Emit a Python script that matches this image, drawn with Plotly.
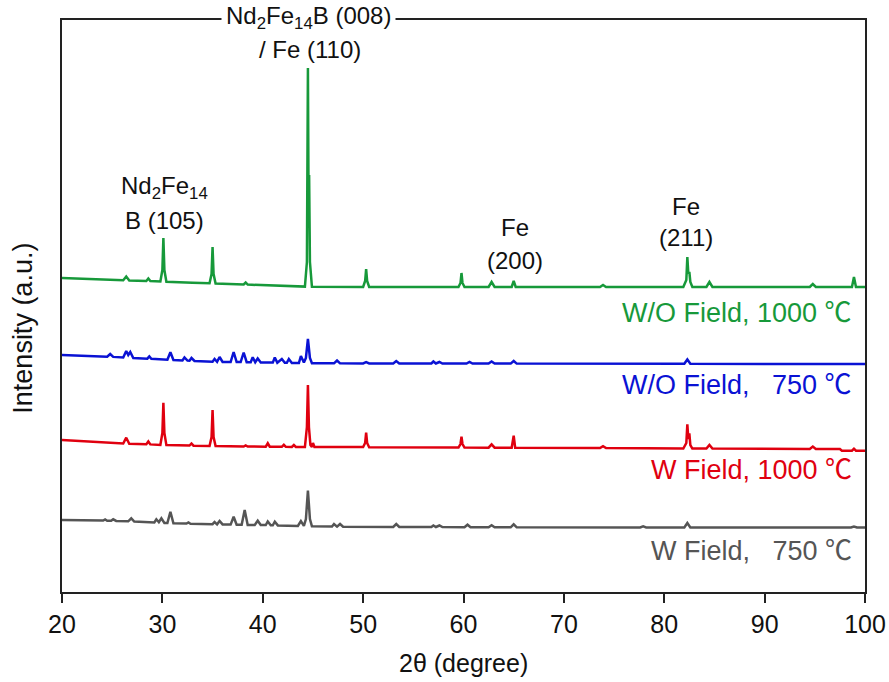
import plotly.graph_objects as go

# ---------------- data (2theta in degree, intensity in a.u.) ----------------
DEG = "<span style=\"font-family:'Noto Sans CJK SC'\">℃</span>"
series_names = ["W/O Field, 1000 " + DEG, "W/O Field,\u00a0\u00a0\u00a0750 " + DEG,
                "W Field, 1000 " + DEG, "W Field,\u00a0\u00a0\u00a0750 " + DEG]

wo_1000_2theta = [20, 24.0, 26.1, 26.4, 26.7, 28.4, 28.6, 28.8, 29.8, 30.0, 30.1, 30.2, 30.4, 33.0, 34.7, 34.9, 35.0,
                  35.1, 35.3, 38.1, 38.3, 38.5, 42.0, 44.2, 44.4, 44.5, 44.56, 44.62, 44.7, 44.9, 50.0, 50.2, 50.3,
                  50.4, 50.6, 59.5, 59.7, 59.8, 59.9, 60.1, 62.5, 62.8, 63.1, 64.8, 65.0, 65.2, 73.6, 73.9, 74.2,
                  81.9, 82.2, 82.3, 82.4, 82.5, 82.6, 82.8, 84.2, 84.5, 84.8, 94.5, 94.8, 95.1, 98.7, 98.9, 99.1, 100]
wo_1000_int = [14, 12.6, 11.8, 15.5, 11.6, 11, 13.5, 10.9, 10.5, 22, 54, 22, 10.3, 9.3, 8.7, 18, 45,
               18, 8.5, 7.5, 9.5, 7.4, 6.2, 5.4, 30, 224, 100, 117, 30, 5.2, 5, 11, 23,
               11, 5, 5, 9, 19, 9, 5, 5, 10, 5, 5, 11, 5, 5, 7, 5,
               5, 12, 35, 18, 20, 10, 5, 5, 10, 5, 5, 8, 5, 5, 15, 5, 5]

wo_750_2theta = [20, 24.5, 24.8, 25.1, 26.1, 26.4, 26.6, 26.8, 27.1, 28.5, 28.7, 28.9, 30.5, 30.8, 31.1, 32.0, 32.2,
                 32.5, 32.7, 32.9, 33.2, 35.0, 35.2, 35.45, 35.7, 36.0, 36.8, 37.1, 37.4, 37.8, 38.1, 38.4, 38.8,
                 39.0, 39.25, 39.5, 39.8, 41.0, 41.2, 41.45, 41.9, 42.2, 42.4, 42.6, 42.9, 43.6, 43.8, 44.1, 44.3,
                 44.5, 44.7, 44.9, 47.1, 47.4, 47.7, 50.0, 50.3, 50.6, 53.0, 53.3, 53.6, 56.8, 57.0, 57.25, 57.6,
                 57.9, 60.3, 60.6, 60.9, 62.5, 62.8, 63.1, 64.7, 65.0, 65.3, 82.0, 82.3, 82.6, 100]
wo_750_int = [17, 15.3, 18, 15.1, 14.5, 21, 17, 20, 14, 13.3, 15.5, 13.2, 12.3, 19.7, 12, 11.6, 14.5,
              11.4, 11.3, 14, 11, 10.3, 13, 10.2, 15, 10.1, 10, 20, 9.9, 9.9, 19.5, 9.8, 9.7,
              14.7, 9.7, 13.5, 9.6, 9.4, 14.5, 9.3, 13, 9.2, 9.2, 13, 9.1, 9, 16, 9.5, 14,
              33, 14, 8.8, 8.7, 11.5, 8.7, 8.6, 9.8, 8.6, 8.6, 11, 8.6, 8.5, 10.5, 8.5, 10,
              8.5, 8.5, 10, 8.5, 8.4, 10.5, 8.4, 8.4, 11, 8.4, 8.2, 12.5, 8.2, 8]

w_1000_2theta = [20, 26.1, 26.4, 26.7, 28.4, 28.6, 28.8, 29.8, 30.0, 30.1, 30.2, 30.4, 32.7, 32.9, 33.1, 34.7, 34.9,
                 35.0, 35.1, 35.3, 38.1, 38.3, 38.5, 40.3, 40.5, 40.7, 41.9, 42.1, 42.3, 42.9, 43.1, 43.3, 44.2,
                 44.4, 44.5, 44.6, 44.75, 44.9, 45.0, 45.15, 50.0, 50.2, 50.3, 50.4, 50.6, 59.5, 59.7, 59.8, 59.9,
                 60.1, 62.5, 62.8, 63.1, 64.8, 65.0, 65.15, 73.6, 73.9, 74.2, 81.9, 82.2, 82.3, 82.4, 82.5, 82.6,
                 82.8, 84.2, 84.5, 84.8, 94.5, 94.8, 95.1, 97.5, 97.7, 98.7, 98.9, 99.1, 100]
w_1000_int = [17, 13.5, 19.3, 13.3, 12.8, 15.5, 12.6, 12.1, 24, 54.3, 24, 11.9, 11.4, 13.5, 11.3, 11, 20,
              47, 20, 10.9, 10.5, 11.5, 10.5, 10.3, 13.7, 10.3, 10.2, 12.2, 10.2, 10.1, 12, 10.1, 10,
              30, 72, 30, 12, 10, 14, 10, 9.9, 14, 24.3, 14, 9.8, 9.5, 13, 20.3, 13,
              9.5, 9.3, 12.7, 9.3, 9.2, 21.3, 9.2, 8.9, 10.8, 8.9, 8.5, 14, 32.7, 18, 23.7, 12,
              8.5, 8.4, 12, 8.4, 8.1, 10.5, 8.1, 8, 6.3, 6.3, 8.3, 6.3, 6.3]

w_750_2theta = [20, 24.1, 24.3, 24.5, 24.9, 25.1, 25.4, 26.6, 26.9, 27.2, 29.2, 29.4, 29.65, 29.9, 30.2, 30.5, 30.8,
                31.1, 32.4, 32.6, 32.8, 35.0, 35.2, 35.45, 35.7, 36.0, 36.8, 37.1, 37.4, 37.9, 38.2, 38.5, 39.2,
                39.5, 39.8, 40.3, 40.5, 40.8, 41.0, 41.2, 41.5, 43.5, 43.8, 44.1, 44.3, 44.5, 44.7, 44.9, 46.9,
                47.1, 47.4, 47.7, 48.0, 53.0, 53.3, 53.6, 56.8, 57.0, 57.25, 57.6, 57.9, 60.1, 60.4, 60.7, 62.5,
                62.8, 63.1, 64.7, 65.0, 65.3, 77.6, 77.9, 78.2, 82.0, 82.3, 82.6, 98.6, 98.9, 99.2, 100]
w_750_int = [17, 16.4, 17.5, 16.3, 16.2, 17.7, 16.1, 15.7, 18.7, 15.5, 14.5, 17.7, 14.8, 18.7, 14, 14, 25.3,
             13.8, 13.4, 14.5, 13.3, 12.8, 15, 12.7, 16, 12.6, 12.4, 20.3, 12.3, 12.2, 27, 12.1, 12,
             16.3, 12, 11.9, 15.5, 11.8, 11.7, 15.3, 11.6, 11.1, 16, 11.2, 18, 46.3, 18, 10.7, 10.4,
             13, 10.4, 13, 10.3, 10.1, 13, 10.1, 10, 11.5, 10, 11.5, 9.9, 9.8, 12.3, 9.8, 9.8,
             11.8, 9.8, 9.7, 12.7, 9.7, 9.6, 10.6, 9.6, 9.6, 14, 9.6, 9.5, 10.5, 9.5, 9.5]

x_ticks = [20, 30, 40, 50, 60, 70, 80, 90, 100]

# ---------------- styling ----------------
offsets = [300, 220, 135, 55]
colors = ["#17993a", "#0a12d4", "#e0000f", "#555555"]
label_y = [0.493, 0.367, 0.2185, 0.0769]   # paper fractions
FONT = "Arial, Liberation Sans, sans-serif"

xs = [wo_1000_2theta, wo_750_2theta, w_1000_2theta, w_750_2theta]
ys = [wo_1000_int, wo_750_int, w_1000_int, w_750_int]

fig = go.Figure()
for name, x, y, off, c in zip(series_names, xs, ys, offsets, colors):
    fig.add_trace(go.Scatter(x=x, y=[v + off for v in y], mode="lines",
                             line=dict(color=c, width=2.5), hoverinfo="skip"))

annotations = []
for name, ly, c in zip(series_names, label_y, colors):
    annotations.append(dict(x=0.986, y=ly, xref="paper", yref="paper", text=name, showarrow=False,
                            xanchor="right", yanchor="middle",
                            font=dict(family=FONT, size=27, color=c)))

peak_labels = [
    (44.6, 1.0035, "Nd<sub>2</sub>Fe<sub>14</sub>B (008)", "white"),
    (44.7, 0.9476, "/ Fe (110)", None),
    (30.2, 0.7063, "Nd<sub>2</sub>Fe<sub>14</sub>", None),
    (30.2, 0.6503, "B (105)", None),
    (65.1, 0.6364, "Fe", None),
    (65.1, 0.5804, "(200)", None),
    (82.2, 0.6731, "Fe", None),
    (82.2, 0.6206, "(211)", None),
]
for px, py, t, bg in peak_labels:
    a = dict(x=px, y=py, xref="x", yref="paper", text=t, showarrow=False,
             xanchor="center", yanchor="middle",
             font=dict(family=FONT, size=24, color="#111111"))
    if bg:
        a["bgcolor"] = bg
        a["borderpad"] = 4
    annotations.append(a)

annotations.append(dict(x=-0.049, y=0.4615, xref="paper", yref="paper", text="Intensity (a.u.)",
                        textangle=-90, showarrow=False, xanchor="center", yanchor="middle",
                        font=dict(family=FONT, size=27, color="#111111")))
annotations.append(dict(x=0.5, y=-0.124, xref="paper", yref="paper", text="2θ (degree)",
                        showarrow=False, xanchor="center", yanchor="middle",
                        font=dict(family=FONT, size=25, color="#111111")))

fig.update_layout(
    width=889, height=682, autosize=False,
    margin=dict(l=62, r=24, t=20, b=90, autoexpand=False),
    paper_bgcolor="white", plot_bgcolor="white",
    showlegend=False,
    annotations=annotations,
    xaxis=dict(range=[20, 100], tickvals=x_ticks, ticks="outside", ticklen=9, tickwidth=1.5,
               tickcolor="#222222", showline=True, linecolor="#222222", linewidth=1.6, mirror=True,
               showgrid=False, zeroline=False, automargin=False,
               tickfont=dict(family=FONT, size=25, color="#111111")),
    yaxis=dict(range=[0, 572], showticklabels=False, ticks="", showline=True, linecolor="#222222",
               linewidth=1.6, mirror=True, showgrid=False, zeroline=False, automargin=False),
)

fig.write_html("out.html")
